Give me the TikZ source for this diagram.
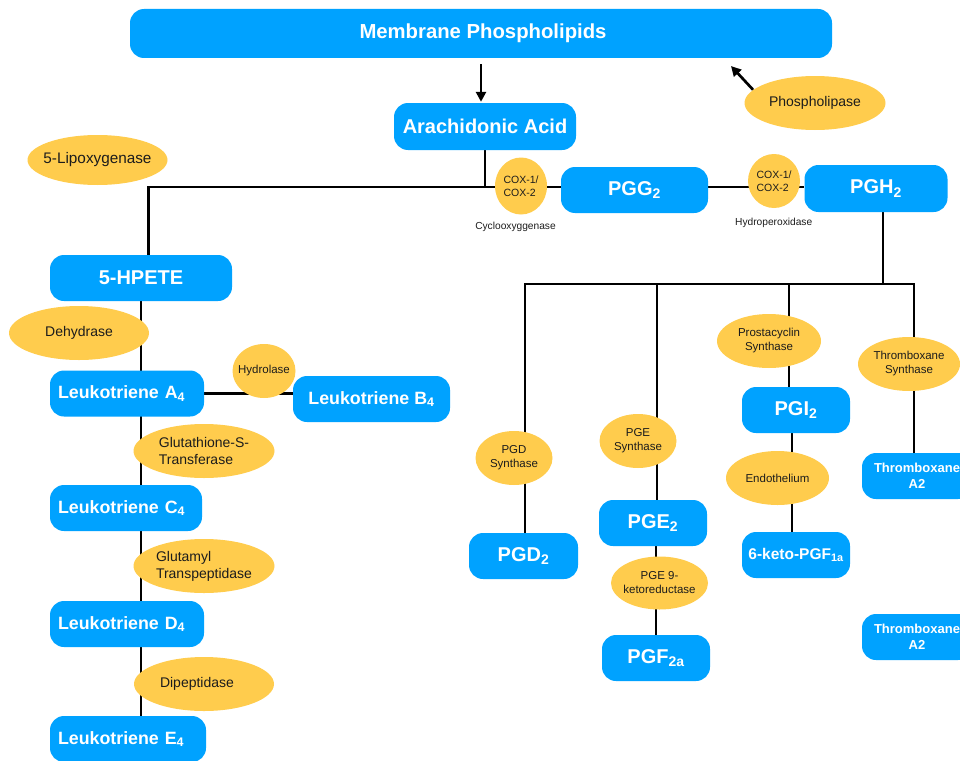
\documentclass[tikz,border=0pt]{standalone}
\usepackage{fontspec}
\setmainfont{Liberation Sans}
\usetikzlibrary{shapes.geometric,arrows.meta}
\definecolor{kblue}{RGB}{0,162,255}
\definecolor{kyel}{RGB}{255,204,77}
\definecolor{ktext}{RGB}{28,28,28}
\pgfdeclarelayer{bg}
\pgfsetlayers{bg,main}
\newcommand\fsz[2]{\fontsize{#1}{#2}\selectfont}
\begin{document}
\begin{tikzpicture}[x=1pt,y=-1pt,
  box/.style={fill=kblue, rounded corners=14pt, text=white, inner sep=0pt, align=center, font=\bfseries\fsz{20}{23}},
  lt/.style={font=\bfseries\fsz{17.8}{20}, align=left},
  tx/.style={font=\bfseries\fsz{13}{15.5}},
  enz/.style={ellipse, fill=kyel, text=ktext, inner ysep=0pt, inner xsep=-12pt, align=center, font=\fsz{14}{17}},
  enzm/.style={enz, font=\fsz{11.5}{14}},
  enzs/.style={enz, inner xsep=-4pt, font=\fsz{10.5}{12.5}},
  lab/.style={text=ktext, inner sep=0pt, font=\fsz{10.2}{12}},
  conn/.style={line width=2.7pt, black},
  arr/.style={conn, -{Triangle[length=10pt,width=10pt]}}]
\clip (0,0) rectangle (960,760);
% top
\node[box, minimum width=702, minimum height=49, font=\bfseries\fsz{20.3}{23}] (mem) at (481,33.5) {\hspace*{4pt}Membrane Phospholipids};
\node[box, minimum width=182, minimum height=47] (aa) at (485,126.5) {Arachidonic Acid};
\node[enz, minimum width=141, minimum height=54] (pl) at (815,103) {Phospholipase};
\node[enz, minimum width=140, minimum height=50, font=\fsz{15.3}{18}] (lox) at (97.5,160) {5-Lipoxygenase};
\node[enzs, minimum width=52, minimum height=57, align=left] (cox1) at (521,186) {COX-1/\\COX-2};
\node[box, minimum width=147, minimum height=46] (pgg) at (634.5,190) {PGG\textsubscript{2}};
\node[enzs, minimum width=52, minimum height=54, align=left] (cox2) at (774,181) {COX-1/\\COX-2};
\node[box, minimum width=143, minimum height=47] (pgh) at (876,188.5) {PGH\textsubscript{2}};
\node[lab] (cyc) at (515.5,227) {Cyclooxyggenase};
\node[lab] (hpx) at (773.7,223) {Hydroperoxidase};
% left chain
\node[box, minimum width=182, minimum height=46] (hpete) at (141,278) {5-HPETE};
\node[enz, minimum width=140, minimum height=54] (dehy) at (79,333) {Dehydrase};
\node[box, lt, minimum width=154, minimum height=46, text width=138] (la4) at (127,393.5) {Leukotriene A\textsubscript{4}};
\node[enzm, minimum width=63, minimum height=54] (hydl) at (264,371) {Hydrolase};
\node[box, minimum width=157, minimum height=46, font=\bfseries\fsz{17.8}{20}] (lb4) at (371.5,399) {Leukotriene B\textsubscript{4}};
\node[enz, minimum width=141, minimum height=54, align=left] (gst) at (204,451) {Glutathione-S-\\Transferase};
\node[box, lt, minimum width=152, minimum height=46, text width=136] (lc4) at (126,508) {Leukotriene C\textsubscript{4}};
\node[enz, minimum width=141, minimum height=54, align=left] (ggt) at (204,566) {Glutamyl\\Transpeptidase};
\node[box, lt, minimum width=154, minimum height=46, text width=138] (ld4) at (127,624) {Leukotriene D\textsubscript{4}};
\node[enz, minimum width=140, minimum height=54] (dip) at (204,684) {\hspace*{-14pt}Dipeptidase};
\node[box, lt, minimum width=156, minimum height=46, text width=140] (le4) at (128,739) {Leukotriene E\textsubscript{4}};
% right branches
\node[enzm, minimum width=77, minimum height=54] (pgds) at (514,458) {PGD\\Synthase};
\node[box, minimum width=109, minimum height=46] (pgd) at (523.5,556) {PGD\textsubscript{2}};
\node[enzm, minimum width=77, minimum height=54] (pges) at (638,441) {PGE\\Synthase};
\node[box, minimum width=108, minimum height=46] (pge) at (653,523) {PGE\textsubscript{2}};
\node[enzm, minimum width=97, minimum height=53] (pgek) at (659.5,583) {PGE 9-\\ketoreductase};
\node[box, minimum width=108, minimum height=46] (pgf) at (656,658) {PGF\textsubscript{2a}};
\node[enzm, minimum width=104, minimum height=54] (pgis) at (769,341) {Prostacyclin\\Synthase};
\node[box, minimum width=108, minimum height=46] (pgi) at (796,410) {PGI\textsubscript{2}};
\node[enzm, minimum width=103, minimum height=54] (endo) at (777.5,478) {Endothelium};
\node[box, minimum width=108, minimum height=46, font=\bfseries\fsz{15.5}{18}] (keto) at (796,555) {6-keto-PGF\textsubscript{1a}};
\node[enzm, minimum width=102, minimum height=54] (txs) at (909,364) {Thromboxane\\Synthase};
\node[box, tx, minimum width=110, minimum height=46] (txa1) at (917,476) {Thromboxane\\A2};
\node[box, tx, minimum width=110, minimum height=46] (txa2) at (917,637) {Thromboxane\\A2};
% connectors
\coordinate (jl) at (148.5,187);
\coordinate (pj) at (883,284);
\coordinate (b1) at (525,284);
\coordinate (b2) at (657,284);
\coordinate (b3) at (789,284);
\coordinate (b4) at (914,284);
\coordinate (plt) at (731,66);
\begin{pgfonlayer}{bg}
\draw[arr] ([yshift=-6pt]mem.south) -- ([yshift=1pt]aa.north -| mem.south);
\draw[arr] (pl.168) -- (plt);
\draw[conn] (aa.south) -- (aa.south |- jl);
\draw[conn] (hpete.north -| jl) -- (jl) -- (jl -| pgh.west);
\draw[conn] (pgh.south -| pj) -- (pj);
\draw[conn] (pgd.north -| b1) -- (b1) -- (b4) -- (txa1.north -| b4);
\draw[conn] (b2) -- (pge.north -| b2);
\draw[conn] (pge.south -| pgf.north) -- (pgf.north);
\draw[conn] (b3) -- (pgi.north -| b3);
\draw[conn] (pgi.south -| 792,0) -- (keto.north -| 792,0);
\draw[conn] (hpete.south) -- (hpete.south |- le4.north);
\draw[conn] (la4.east) -- (la4.east -| lb4.west);
\end{pgfonlayer}
\end{tikzpicture}
\end{document}
